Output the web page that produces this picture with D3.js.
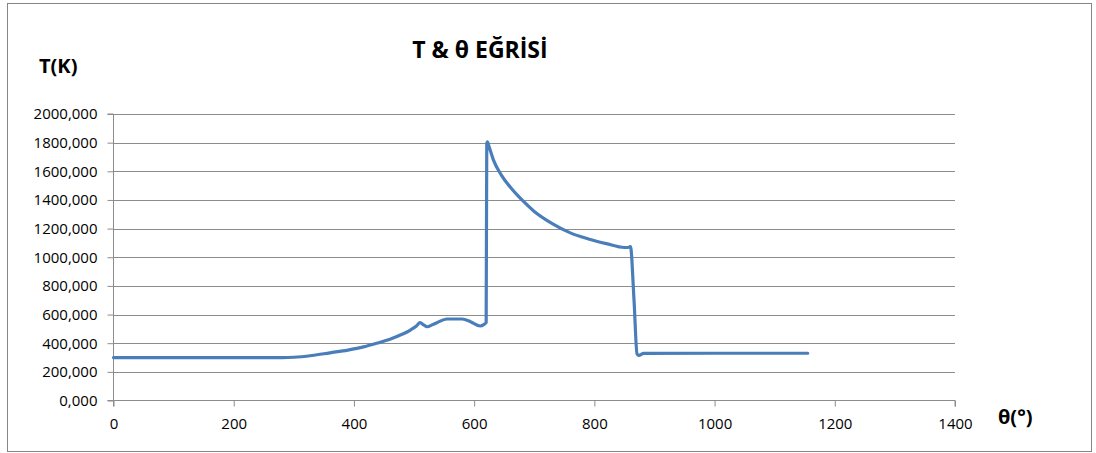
<!DOCTYPE html>
<html>
<head>
<meta charset="utf-8">
<script src="https://cdn.jsdelivr.net/npm/d3@7"></script>
<style>
  body { margin: 0; background: #fff; }
  text { font-family: 'Open Sans', sans-serif; fill: #000; }
</style>
</head>
<body>
<div id="chart-area"></div>
<script>
// angle (deg) and temperature (K)
const theta = [0, 280, 300, 330, 360, 390, 416, 440, 460, 480, 494, 504, 510, 516, 522, 530, 538, 555, 580, 594, 610, 616, 620, 621, 622, 625, 632, 645, 660, 680, 700, 730, 760, 790, 820, 850, 856, 860, 866, 871, 874, 882, 1000, 1155];
const temp = [300, 300, 302, 314, 333, 352, 374, 402, 428, 462, 492, 520, 543, 528, 515, 528, 543, 569, 569, 550, 520, 530, 545, 1790, 1805, 1770, 1680, 1575, 1490, 1398, 1320, 1235, 1170, 1128, 1095, 1068, 1068, 1075, 700, 325, 315, 329, 330, 330];

const yTicks = [0, 200, 400, 600, 800, 1000, 1200, 1400, 1600, 1800, 2000];
const xTicks = [0, 200, 400, 600, 800, 1000, 1200, 1400];

const width = 1096;
const height = 453;

let svg = d3
  .select('#chart-area')
  .append('svg')
  .attr('width', width)
  .attr('height', height);

// outer chart frame
svg
  .append('rect')
  .attr('x', 7.5)
  .attr('y', 3.5)
  .attr('width', 1084)
  .attr('height', 448)
  .attr('fill', '#fff')
  .attr('stroke', '#868686');

let x = d3.scaleLinear().domain([0, 1400]).range([113.5, 955]);
let y = d3.scaleLinear().domain([0, 2000]).range([400.5, 114]);

// horizontal gridlines
svg
  .append('g')
  .selectAll('line')
  .data(yTicks.slice(1))
  .enter()
  .append('line')
  .attr('x1', x(0))
  .attr('x2', x(1400))
  .attr('y1', (d) => Math.round(y(d)) + 0.5)
  .attr('y2', (d) => Math.round(y(d)) + 0.5)
  .attr('stroke', '#8c8c8c');

let fmt = (d) => d3.format('.3f')(d).replace('.', ',');

let yAxis = svg
  .append('g')
  .attr('transform', `translate(${x(0)},0)`)
  .call(d3.axisLeft(y).tickValues(yTicks).tickFormat(fmt).tickSize(6).tickPadding(10));

let xAxis = svg
  .append('g')
  .attr('transform', `translate(0,${y(0)})`)
  .call(d3.axisBottom(x).tickValues(xTicks).tickFormat(d3.format('d')).tickSize(6).tickPadding(12));

[yAxis, xAxis].forEach((a) => {
  a.selectAll('path, line').attr('stroke', '#8c8c8c');
  a.select('.domain').attr('stroke', '#8c8c8c');
  a.selectAll('text').style('font-size', '15px').style('font-family', "'Open Sans', sans-serif").attr('fill', '#000');
});
xAxis.select('.domain').attr('d', `M${x(0)},6V0H${x(1400)}V6`);
yAxis.select('.domain').attr('d', `M-6,${y(2000)}H0V${y(0)}H-6`);

// the curve
let line = d3
  .line()
  .x((d, i) => x(theta[i]))
  .y((d) => y(d))
  .curve(d3.curveMonotoneX);

svg
  .append('path')
  .datum(temp)
  .attr('d', line)
  .attr('fill', 'none')
  .attr('stroke', '#4a7ebb')
  .attr('stroke-width', 3.2)
  .attr('stroke-linejoin', 'round')
  .attr('stroke-linecap', 'round');

// titles
svg
  .append('text')
  .attr('x', 480)
  .attr('y', 58)
  .attr('text-anchor', 'middle')
  .style('font-size', '23px')
  .style('font-weight', 'bold')
  .text('T & θ EĞRİSİ');

svg
  .append('text')
  .attr('x', 39)
  .attr('y', 73)
  .style('font-size', '20px')
  .style('font-weight', 'bold')
  .text('T(K)');

svg
  .append('text')
  .attr('x', 998)
  .attr('y', 424)
  .style('font-size', '20px')
  .style('font-weight', 'bold')
  .text('θ(°)');
</script>
</body>
</html>
